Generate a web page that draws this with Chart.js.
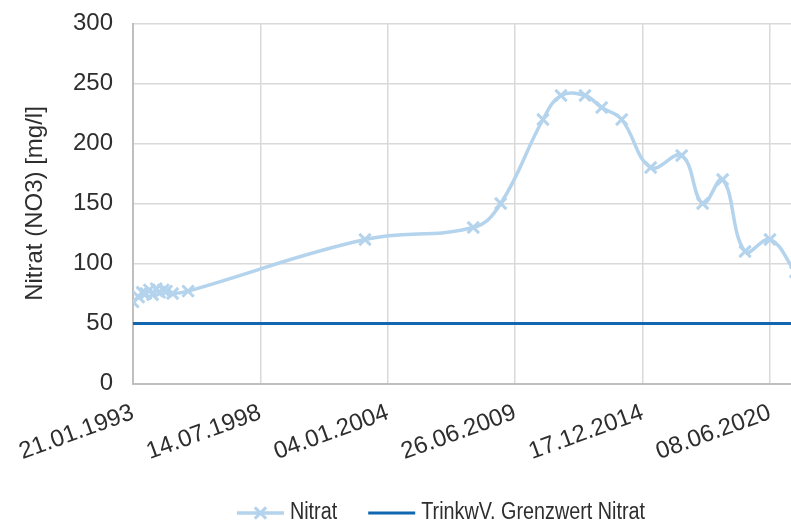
<!DOCTYPE html>
<html><head><meta charset="utf-8">
<script src="https://cdn.jsdelivr.net/npm/chart.js@4/dist/chart.umd.min.js"></script>
<style>html,body{margin:0;padding:0;background:#fff;overflow:hidden}#wrap{width:791px;height:524px;position:relative}</style>
</head><body><div id="wrap"><canvas id="c"></canvas></div>
<script>
// ---- data ----
const baseDate = "21.01.1993";
const nitratDates = ["21.01.1993","20.04.1993","15.06.1993","10.08.1993","05.10.1993","25.11.1993","20.01.1994","15.03.1994","10.05.1994","01.07.1994","05.10.1994","05.06.1995","11.01.2003","07.09.2007","11.11.2008","05.09.2010","15.06.2011","26.06.2012","15.03.2013","23.01.2014","23.04.2015","22.08.2016","17.07.2017","27.05.2018","13.05.2019","08.06.2020","13.07.2021"];
const nitratValues = [68,72,76,75,78,74,79,76,78,77,75,77,120,130,150,220,240,240,230,220,180,190,150,170,110,120,93];
const limitDates = ["21.01.1993","13.07.2021"];
const limitValues = [50,50];
const xTickStepDays = 2000;
const xMaxDays = 10330;
const yMin = 0, yMax = 300, yStep = 50;
const seriesNames = ["Nitrat","TrinkwV. Grenzwert Nitrat"];
const yTitle = "Nitrat (NO3) [mg/l]";

// ---- helpers ----
function parseDE(s){const [d,m,y]=s.split('.').map(Number);return Date.UTC(y,m-1,d);}
const base = parseDE(baseDate);
function toDays(s){return Math.round((parseDE(s)-base)/86400000);}
function fmt(days){const dt=new Date(base+days*86400000);const p=n=>String(n).padStart(2,'0');return p(dt.getUTCDate())+'.'+p(dt.getUTCMonth()+1)+'.'+dt.getUTCFullYear();}

const nitratPts = nitratDates.map((d,i)=>({x:toDays(d),y:nitratValues[i]}));
const limitPts = limitDates.map((d,i)=>({x:toDays(d),y:limitValues[i]}));

const C_NITRAT = '#B4D3EC';
const C_LIMIT = '#1067B0';
const TXT = '#2e2e2e';
const FONT = '"Liberation Sans", Arial, sans-serif';

const legendPlugin = {
  id:'customLegend',
  afterDraw(chart){
    const ctx = chart.ctx;
    ctx.save();
    ctx.font = '23px ' + FONT;
    ctx.textBaseline = 'middle';
    ctx.fillStyle = TXT;
    const squeeze = 0.86;
    const lineLen = 47, gap = 6, itemGap = 31;
    const ds = chart.data.datasets;
    const widths = ds.map(d=>lineLen+gap+ctx.measureText(d.label).width*squeeze);
    const total = widths.reduce((a,b)=>a+b,0)+itemGap*(ds.length-1);
    const cx = (chart.chartArea.left + chart.width)/2 - 21;
    let x = cx - total/2;
    const y = 513;
    ds.forEach((d,i)=>{
      ctx.strokeStyle = d.borderColor;
      ctx.lineWidth = d.borderWidth;
      ctx.beginPath();ctx.moveTo(x,y);ctx.lineTo(x+lineLen,y);ctx.stroke();
      if (d.pointStyle==='crossRot' && d.pointRadius>0){
        const r = d.pointRadius*0.707, mx = x+lineLen/2;
        ctx.lineWidth = d.pointBorderWidth;
        ctx.beginPath();
        ctx.moveTo(mx-r,y-r);ctx.lineTo(mx+r,y+r);
        ctx.moveTo(mx+r,y-r);ctx.lineTo(mx-r,y+r);
        ctx.stroke();
      }
      ctx.save();
      ctx.translate(x+lineLen+gap, y);
      ctx.scale(squeeze,1);
      ctx.fillText(d.label, 0, 0);
      ctx.restore();
      x += widths[i]+itemGap;
    });
    ctx.restore();
  }
};

new Chart(document.getElementById('c'), {
  type:'line',
  data:{datasets:[
    {label:seriesNames[0],data:nitratPts,borderColor:C_NITRAT,backgroundColor:C_NITRAT,borderWidth:3.5,
     tension:0.4,pointStyle:'crossRot',pointRadius:8,pointBorderWidth:3,pointBorderColor:C_NITRAT,fill:false,order:1},
    {label:seriesNames[1],data:limitPts,borderColor:C_LIMIT,backgroundColor:C_LIMIT,borderWidth:3,
     tension:0,pointRadius:0,fill:false,order:2}
  ]},
  options:{
    responsive:true,maintainAspectRatio:false,animation:false,
    layout:{autoPadding:false,padding:{top:23.5,left:0,right:0,bottom:0}},
    plugins:{legend:{display:false},tooltip:{enabled:false}},
    scales:{
      x:{type:'linear',min:0,max:xMaxDays,
         afterBuildTicks(s){const t=[];for(let v=0;v<=xMaxDays;v+=xTickStepDays)t.push({value:v});s.ticks=t;},
         afterFit(s){s.height=140.5;s.paddingLeft=0;s.paddingRight=0;},
         grid:{color:'#d9d9d9',lineWidth:1.5,drawTicks:false},
         border:{color:'#bfbfbf',width:2},
         ticks:{callback:v=>fmt(v),minRotation:20,maxRotation:20,autoSkip:false,padding:15,color:TXT,
                font:{family:FONT,size:24}}},
      y:{min:yMin,max:yMax,
         afterFit(s){s.width=133;s.paddingTop=0;s.paddingBottom=0;},
         grid:{color:'#d9d9d9',lineWidth:1.5,drawTicks:false},
         border:{color:'#bfbfbf',width:2},
         ticks:{stepSize:yStep,padding:20,color:TXT,font:{family:FONT,size:24}},
         title:{display:true,text:yTitle,color:TXT,padding:{top:21,bottom:0},
                font:{family:FONT,size:24,weight:'normal'}}}
    }
  },
  plugins:[legendPlugin]
});
</script></body></html>
